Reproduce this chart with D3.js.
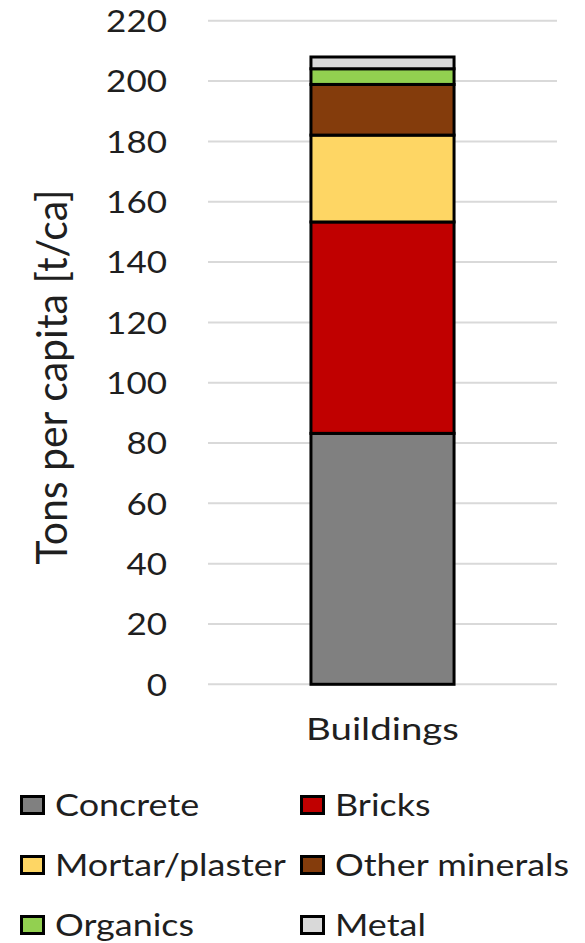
<!DOCTYPE html>
<html>
<head>
<meta charset="utf-8">
<script src="https://cdn.jsdelivr.net/npm/d3@7"></script>
<style>
  html, body { margin: 0; padding: 0; background: #fff; }
  svg text { font-family: Lato, "Open Sans", sans-serif; fill: #1f1f1f; }
</style>
</head>
<body>
<svg id="chart" width="585" height="943"></svg>
<script>
// Material stock of buildings, tons per capita
const categories = ["Buildings"];
const materials = ["Concrete", "Bricks", "Mortar/plaster", "Other minerals", "Organics", "Metal"];
const values = [83.2, 70.1, 28.8, 16.8, 5.2, 3.9];
const colors = ["#808080", "#C00000", "#FED664", "#843C0C", "#92D050", "#D9D9D9"];
const yTicks = [0, 20, 40, 60, 80, 100, 120, 140, 160, 180, 200, 220];
const yTitle = "Tons per capita [t/ca]";

const svg = d3.select("#chart");
const plot = { left: 208, right: 557, top: 20.8, bottom: 684.3 };
const fontSize = 31;

const x = d3.scaleBand().domain(categories).range([plot.left, plot.right]).paddingInner(0.59).paddingOuter(0.295);
const y = d3.scaleLinear().domain([0, 220]).range([plot.bottom, plot.top]);

// gridlines
svg.append("g")
  .selectAll("line")
  .data(yTicks)
  .join("line")
  .attr("x1", plot.left).attr("x2", plot.right)
  .attr("y1", d => y(d)).attr("y2", d => y(d))
  .attr("stroke", "#D9D9D9").attr("stroke-width", 2);

// y axis labels (slightly widened glyphs)
const yAxis = svg.append("g")
  .attr("transform", `translate(167,0)`)
  .call(d3.axisLeft(y).tickValues(yTicks).tickSize(0).tickPadding(0));
yAxis.select(".domain").remove();
yAxis.selectAll("text")
  .attr("font-size", fontSize)
  .attr("font-family", "Lato")
  .attr("fill", "#1f1f1f")
  .attr("x", 0)
  .attr("dy", "0.35em")
  .attr("transform", "scale(1.13,1)");

// stacked bar
const stackData = [Object.fromEntries(materials.map((m, i) => [m, values[i]]))];
const series = d3.stack().keys(materials)(stackData);

svg.append("g")
  .selectAll("rect")
  .data(series)
  .join("rect")
  .attr("x", x(categories[0]))
  .attr("width", x.bandwidth())
  .attr("y", d => y(d[0][1]))
  .attr("height", d => y(d[0][0]) - y(d[0][1]))
  .attr("fill", (d, i) => colors[i])
  .attr("stroke", "#000")
  .attr("stroke-width", 3);

// category label
const xAxis = svg.append("g")
  .attr("transform", `translate(0,${plot.bottom})`)
  .call(d3.axisBottom(x).tickSize(0).tickPadding(0));
xAxis.select(".domain").remove();
xAxis.selectAll("text")
  .attr("font-size", fontSize)
  .attr("font-family", "Lato")
  .attr("fill", "#1f1f1f")
  .attr("y", 56)
  .attr("dy", 0)
  .attr("transform", "scale(1.24,1)");

// y title
svg.append("text")
  .attr("transform", `translate(67,377) scale(1.06,1) rotate(-90)`)
  .attr("text-anchor", "middle")
  .attr("font-size", 41)
  .text(yTitle);

// legend
const legendCols = [20, 300];
const legendRows = [805, 865, 925];
const legend = svg.append("g")
  .selectAll("g")
  .data(materials)
  .join("g")
  .attr("transform", (d, i) => `translate(${legendCols[i % 2]},${legendRows[Math.floor(i / 2)]})`);
legend.append("rect")
  .attr("x", 1.5).attr("y", -8.5)
  .attr("width", 22).attr("height", 17)
  .attr("fill", (d, i) => colors[i])
  .attr("stroke", "#000").attr("stroke-width", 3);
legend.append("text")
  .attr("transform", "translate(35,0) scale(1.16,1)")
  .attr("dy", "0.35em")
  .attr("font-size", fontSize)
  .text(d => d);
</script>
</body>
</html>
